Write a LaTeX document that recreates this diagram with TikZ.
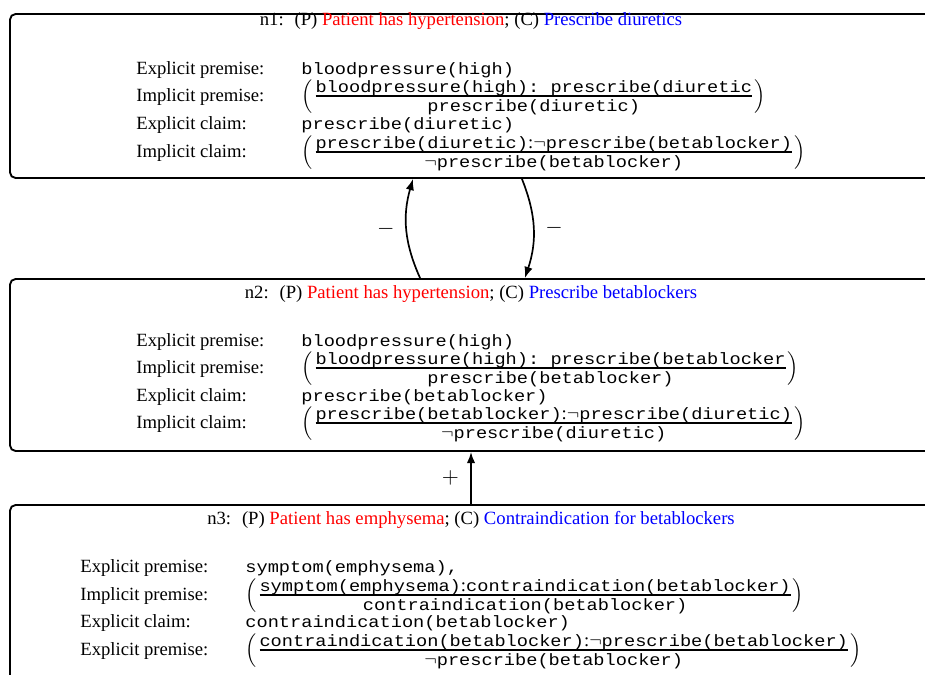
\documentclass[tikz,border=0pt]{standalone}
\usepackage{amsmath}
\usepackage{fontspec}
\setmainfont{Liberation Serif}
\setmonofont{Liberation Mono}[Scale=0.88,FakeStretch=1.136]
\usetikzlibrary{arrows.meta,fit}
\newcommand{\cd}[1]{\texttt{#1}}
\newdimen\fracw
% default rule: justification over conclusion, in round brackets
\newcommand{\dft}[2]{%
  \setbox0\hbox{#1}\setbox2\hbox{#2}%
  \ifdim\wd0>\wd2 \fracw=\wd0 \else \fracw=\wd2 \fi
  $\left(\kern1.6pt\vcenter{\offinterlineskip
    \hbox to\fracw{\hss\vrule height7.2pt depth1.6pt width0pt\smash{\box0}\hss}%
    \hrule height0.8pt
    \hbox to\fracw{\hss\vrule height7.8pt depth2.2pt width0pt\smash{\box2}\hss}}\kern1.2pt\right)$}
\tikzset{
  argbox/.style={draw,line width=1pt,rounded corners=3pt,inner sep=0pt},
  title/.style={inner sep=0pt},
  lab/.style={anchor=west,inner sep=0pt},
  expr/.style={anchor=west,inner sep=0pt},
  arr/.style={-{Latex[length=6pt,width=4.5pt]},line width=0.9pt},
  sign/.style={inner sep=0pt,font=\large}
}
\begin{document}
\begin{tikzpicture}[x=0.536pt,y=-0.536pt]
  \useasboundingbox (0,0) rectangle (925,674);
  % argument boxes
  \node[argbox,fit={(10,14) (932,178)}] (n1) {};
  \node[argbox,fit={(10,279) (932,451)}] (n2) {};
  \node[argbox,fit={(10,505) (932,700)}] (n3) {};

  % titles
  \node[title] (t1) at (471,21) {n1:~ (P) \textcolor{red}{Patient has hypertension}; (C) \textcolor{blue}{Prescribe diuretics}};
  \node[title] (t2) at (471,294) {n2:~ (P) \textcolor{red}{Patient has hypertension}; (C) \textcolor{blue}{Prescribe betablockers}};
  \node[title] (t3) at (471,520) {n3:~ (P) \textcolor{red}{Patient has emphysema}; (C) \textcolor{blue}{Contraindication for betablockers}};

  % n1 rows
  \foreach \y/\txt/\ex [count=\i] in {
    70/Explicit premise:/{\cd{bloodpressure(high)}},
    97/Implicit premise:/{\dft{\cd{bloodpressure(high):~prescribe(diuretic}}{\cd{prescribe(diuretic)}}},
    125/Explicit claim:/{\cd{prescribe(diuretic)}},
    153/Implicit claim:/{\dft{\cd{prescribe(diuretic)}{:}$\neg$\cd{prescribe(betablocker)}}{$\neg$\cd{prescribe(betablocker)}}}}
  {
    \node[lab] (n1l\i) at (136,\y) {\txt};
    \node[expr] (n1e\i) at (301,\y) {\ex};
  }

  % n2 rows
  \foreach \y/\txt/\ex [count=\i] in {
    342/Explicit premise:/{\cd{bloodpressure(high)}},
    369/Implicit premise:/{\dft{\cd{bloodpressure(high):~prescribe(betablocker}}{\cd{prescribe(betablocker)}}},
    397/Explicit claim:/{\cd{prescribe(betablocker)}},
    424/Implicit claim:/{\dft{\cd{prescribe(betablocker)}{:}$\neg$\cd{prescribe(diuretic)}}{$\neg$\cd{prescribe(diuretic)}}}}
  {
    \node[lab] (n2l\i) at (136,\y) {\txt};
    \node[expr] (n2e\i) at (301,\y) {\ex};
  }

  % n3 rows
  \foreach \y/\txt/\ex [count=\i] in {
    568/Explicit premise:/{\cd{symptom(emphysema),}},
    596/Implicit premise:/{\dft{\cd{symptom(emphysema)}{:}\cd{contraindication(betablocker)}}{\cd{contraindication(betablocker)}}},
    623/Explicit claim:/{\cd{contraindication(betablocker)}},
    651/Explicit premise:/{\dft{\cd{contraindication(betablocker)}{:}$\neg$\cd{prescribe(betablocker)}}{$\neg$\cd{prescribe(betablocker)}}}}
  {
    \node[lab] (n3l\i) at (80,\y) {\txt};
    \node[expr] (n3e\i) at (245,\y) {\ex};
  }

  % attacks and support
  \draw[arr] ([xshift=-27.3pt]n2.north) to[bend left=20] node[sign,left=6pt] (a1) {$-$} ([xshift=-31.1pt]n1.south);
  \draw[arr] ([xshift=27.3pt]n1.south) to[bend left=20] node[sign,right=6pt] (a2) {$-$} ([xshift=28.9pt]n2.north);
  \draw[arr] (n3.north) -- node[sign,left=6pt] (s1) {$+$} (n2.south);
\end{tikzpicture}
\end{document}
